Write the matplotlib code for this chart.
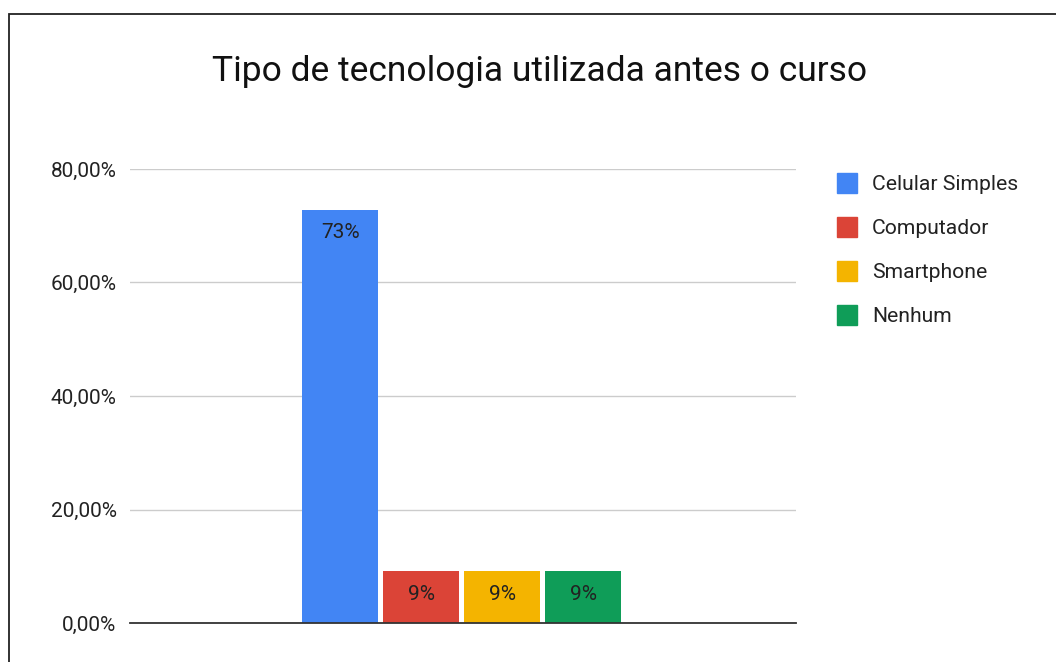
import matplotlib
matplotlib.use('Agg')
import matplotlib.pyplot as plt
from matplotlib.patches import Rectangle

plt.rcParams['font.family'] = ['Roboto', 'DejaVu Sans']

# Dados
series = ['Celular Simples', 'Computador', 'Smartphone', 'Nenhum']
valores = [72.73, 9.09, 9.09, 9.09]
rotulos = ['73%', '9%', '9%', '9%']
cores = ['#4285F4', '#DB4437', '#F4B400', '#0F9D58']
yticks = [0, 20, 40, 60, 80]
ytick_labels = ['0,00%', '20,00%', '40,00%', '60,00%', '80,00%']

W, H = 1056, 662
fig = plt.figure(figsize=(W / 100, H / 100), dpi=100)

# moldura
fig.patches.append(Rectangle((9 / W, -0.1), 1.2, (H - 14) / H + 0.1,
                             transform=fig.transFigure, fill=False,
                             edgecolor='#222222', linewidth=1.3))

ax = fig.add_axes([130 / W, 39 / H, 666 / W, 454 / H])
passo = 81 / 666
largura = 76 / 666
for i, (v, c, r) in enumerate(zip(valores, cores, rotulos)):
    x = (i - 1.5) * passo - 0.002
    ax.bar(x, v, width=largura, color=c, zorder=3)
    ax.text(x, v - 4.0, r, ha='center', va='center', fontsize=15,
            color='#222222', zorder=4)

ax.set_xlim(-0.5, 0.5)
ax.set_ylim(0, 80)
ax.set_yticks(yticks)
ax.set_yticklabels(ytick_labels, fontsize=15, color='#222222')
ax.set_xticks([])
ax.tick_params(axis='y', length=0, pad=9.7)
ax.grid(axis='y', color='#cccccc', linewidth=1, zorder=0)
for s in ['top', 'right', 'left']:
    ax.spines[s].set_visible(False)
ax.spines['bottom'].set_color('#333333')
ax.spines['bottom'].set_linewidth(1.3)
ax.spines['bottom'].set_zorder(5)

fig.text(540 / W, 1 - 71 / H, 'Tipo de tecnologia utilizada antes o curso',
         ha='center', va='center', fontsize=25.5, color='#111111')

# legenda
for i, (nome, c) in enumerate(zip(series, cores)):
    yc = 183 + 44 * i
    fig.patches.append(Rectangle((837 / W, 1 - (yc + 10) / H), 20 / W, 20 / H,
                                 transform=fig.transFigure, color=c))
    fig.text(872 / W, 1 - (yc + 1.5) / H, nome, ha='left', va='center',
             fontsize=15.2, color='#222222')

fig.savefig('out.png', dpi=100)
